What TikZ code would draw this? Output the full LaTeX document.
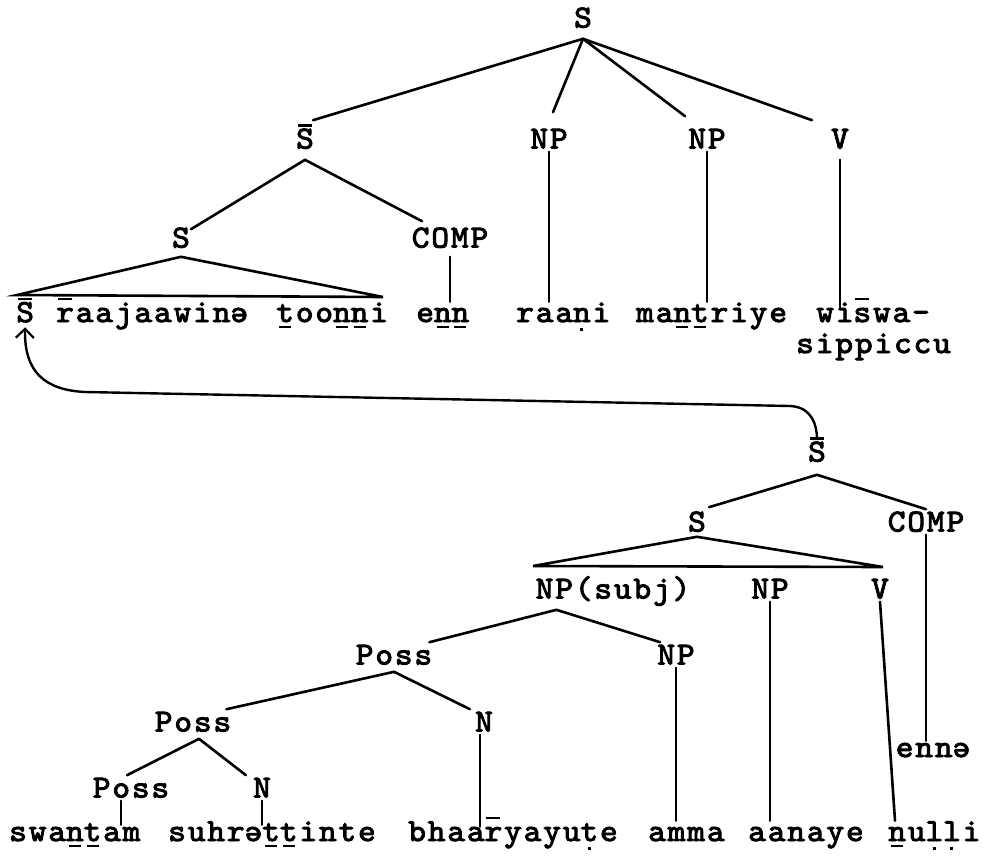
\documentclass[tikz,border=0pt]{standalone}
\usepackage{graphicx}
\usetikzlibrary{arrows.meta}
\font\twf="[lmmono10-regular]:letterspace=6;extend=1.05;embolden=3" at 32pt
\newcommand\tOver[1]{\setbox0=\hbox{#1}\rlap{\hbox to \wd0{\hss\rule[22pt]{14pt}{2.4pt}\hss}}#1}
\newcommand\tUnder[1]{\setbox0=\hbox{#1}\rlap{\hbox to \wd0{\hss\rule[-6pt]{12pt}{2.2pt}\hss}}#1}
\newcommand\tDot[1]{\setbox0=\hbox{#1}\rlap{\hbox to \wd0{\hss\rule[-9pt]{3pt}{3pt}\hss}}#1}
\newcommand\tSchwa{\rotatebox[origin=c]{180}{e}}
\begin{document}
\begin{tikzpicture}[x=1pt,y=-1pt,line width=2.6pt,line cap=round,
  lab/.style={font=\twf,inner sep=2pt,text height=19pt,text depth=0pt},
  word/.style={font=\twf,inner sep=0pt,anchor=base west,text height=19pt,text depth=4pt},
  trace/.style={line width=2.4pt,-{Straight Barb[length=9pt,width=18pt,line width=2.2pt]}}]
\fill[white] (0,0) rectangle (1001,857);
\useasboundingbox (0,0) rectangle (1001,857);

% upper tree
\node[lab] (topS) at (583,18) {S};
\node[lab] (sb1) at (305,139) {\tOver{S}};
\node[lab] (np1) at (549,139) {NP};
\node[lab] (np2) at (707,139) {NP};
\node[lab] (v1) at (840,139) {V};
\node[lab] (s2) at (181,238) {S};
\node[lab] (comp1) at (450,238) {COMP};

\node[word] (w1) at (15,322) {\tOver{S}};
\node[word] (w2) at (55,322) {\tOver{r}aajaawin\tSchwa};
\node[word] (w3) at (275,322) {\tUnder{t}oo\tUnder{n}\tUnder{n}i};
\node[word] (w4) at (415,322) {e\tUnder{n}\tUnder{n}};
\node[word] (w5) at (515,322) {raa\tDot{n}i};
\node[word] (w6) at (635,322) {ma\tUnder{n}\tUnder{t}riye};
\node[word] (w7) at (815,322) {wi\tOver{s}wa-};
\node[word] (w8) at (795,353) {sippiccu};

\coordinate (apex) at ([yshift=-8pt]topS.south);
\draw (apex) -- ([xshift=8pt,yshift=6pt]sb1.north);
\draw (apex) -- ([xshift=4pt,yshift=14pt]np1.north);
\draw (apex) -- ([xshift=-22pt,yshift=10pt]np2.north);
\draw (apex) -- ([xshift=-28pt,yshift=6pt]v1.north);
\draw ([yshift=-8pt]sb1.south) -- ([xshift=10pt,yshift=-4pt]s2.north);
\draw ([yshift=-8pt]sb1.south) -- ([xshift=-28pt,yshift=4pt]comp1.north);
\coordinate (t1l) at (17,295);
\coordinate (t1r) at (383,297);
\draw ([yshift=-6pt]s2.south) -- (t1l) -- (t1r) -- cycle;
\draw ([yshift=-6pt]comp1.south) -- (comp1.south |- w4.north);
\draw (np1.south) -- (np1.south |- w5.north);
\draw (np2.south) -- (np2.south |- w6.north);
\draw ([yshift=-8pt]v1.south) -- ([yshift=-6pt]v1.south |- w7.north);

% lower tree
\node[lab] (sb2) at (817,452) {\tOver{S}};
\node[lab] (s3) at (697,522) {S};
\node[lab] (comp2) at (926,522) {COMP};
\node[lab] (npsubj) at (613,589) {NP(subj)};
\node[lab] (np3) at (770,589) {NP};
\node[lab] (v3) at (880,589) {V};
\node[lab] (poss1) at (394,655) {Poss};
\node[lab] (np4) at (676,655) {NP};
\node[lab] (poss2) at (193,722) {Poss};
\node[lab] (n1) at (484,722) {N};
\node[lab] (poss3) at (131,788) {Poss};
\node[lab] (n2) at (262,788) {N};
\node[word,anchor=base] (enna) at (933,757) {enn\tSchwa};

\node[word] (b1) at (8,841) {swa\tUnder{n}\tUnder{t}am};
\node[word] (b2) at (167,841) {suhr\tSchwa\tUnder{t}\tUnder{t}inte};
\node[word] (b3) at (407,841) {bhaa\tOver{r}yayu\tDot{t}e};
\node[word] (b4) at (647,841) {amma};
\node[word] (b5) at (747,841) {aanaye};
\node[word] (b6) at (887,841) {\tUnder{n}u\tDot{l}\tDot{l}i};

\coordinate (apex2) at ([yshift=-10pt]sb2.south);
\draw (apex2) -- ([xshift=12pt,yshift=2pt]s3.north);
\draw (apex2) -- (comp2.north);
\coordinate (t2l) at (533,566);
\coordinate (t2r) at (883,567);
\draw ([yshift=-2pt]s3.south) -- (t2l) -- (t2r) -- cycle;
\draw (comp2.south) -- ([yshift=-4pt]comp2.south |- enna.north);
\coordinate (apex3) at ([xshift=24pt,yshift=-8pt]npsubj.south west);
\draw (apex3) -- ([xshift=-6pt]poss1.north east);
\draw (apex3) -- ([xshift=6pt]np4.north west);
\draw (np3.south) -- (np3.south |- b5.north);
\draw (v3.south) -- ([xshift=8pt]b6.north west);
\draw (np4.south) -- (np4.south |- b4.north);
\coordinate (apex4) at ([yshift=-4pt]poss1.south);
\draw (apex4) -- ([xshift=-8pt]poss2.north east);
\draw (apex4) -- ([xshift=-2pt]n1.north west);
\draw ([xshift=-4pt]n1.south) -- ([xshift=-4pt,yshift=-6pt]n1.south |- b3.north);
\coordinate (apex5) at ([xshift=6pt,yshift=-4pt]poss2.south);
\draw (apex5) -- ([xshift=-4pt]poss3.north);
\draw (apex5) -- ([xshift=-4pt]n2.north west);
\draw ([xshift=-10pt]poss3.south) -- ([xshift=-10pt,yshift=-4pt]poss3.south |- b1.north);
\draw (n2.south) -- ([yshift=-4pt]n2.south |- b2.north);

% movement arrow
\draw[trace] (sb2.north) .. controls ([yshift=14pt]sb2.north) and (812,407) .. (790,406)
  -- (85,392) .. controls (45,390) and (24,372) .. (w1.south);
\end{tikzpicture}
\end{document}
